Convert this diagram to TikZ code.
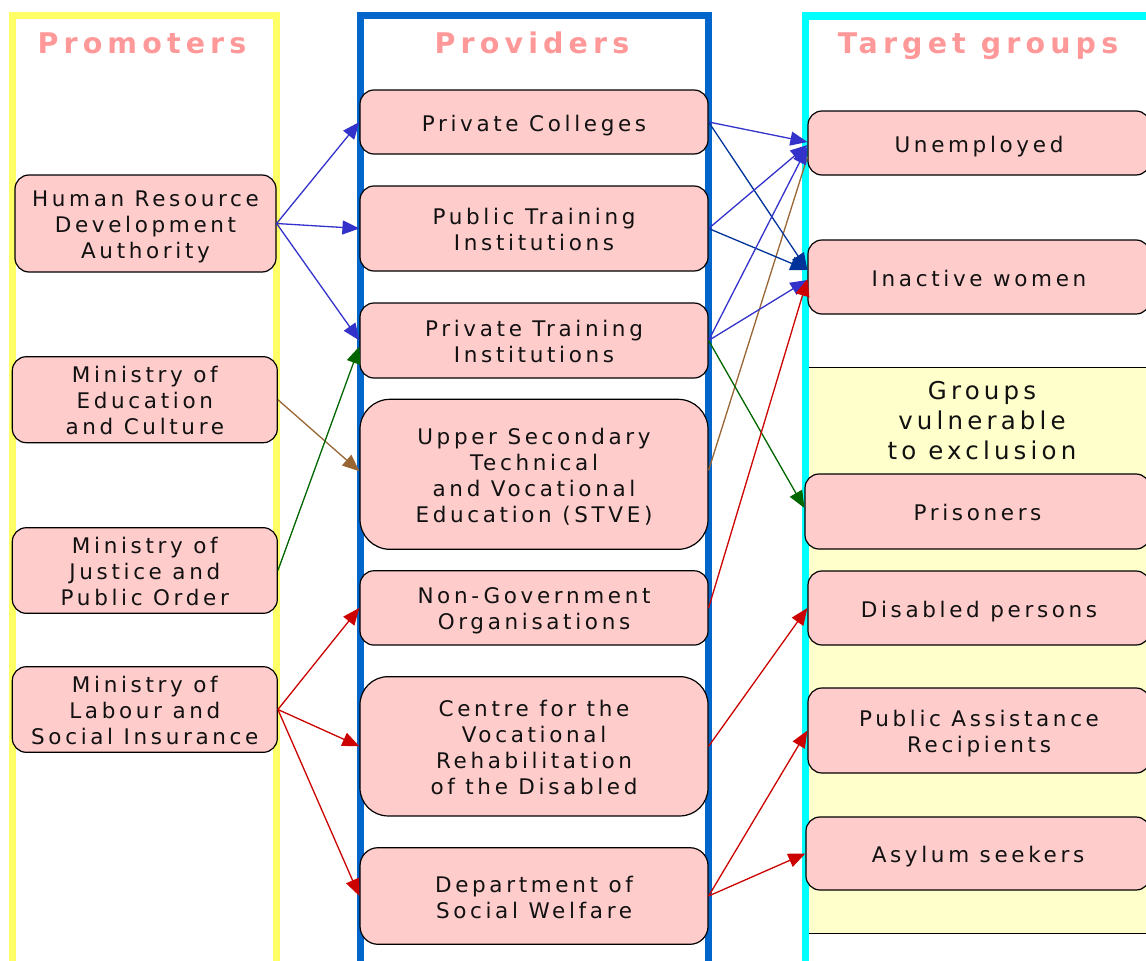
\documentclass[tikz,border=0pt]{standalone}
\usepackage{fontspec}
\setmainfont{DejaVu Sans}
\newfontfamily\boxfont[LetterSpace=17]{DejaVu Sans}
\newfontfamily\titlefont[LetterSpace=18]{DejaVu Sans}
\usetikzlibrary{arrows.meta,calc}
\definecolor{pinkfill}{HTML}{FFCCCC}
\definecolor{titlepink}{HTML}{FF9999}
\definecolor{framey}{HTML}{FFFF66}
\definecolor{frameb}{HTML}{0066CC}
\definecolor{framec}{HTML}{00FFFF}
\definecolor{lightyel}{HTML}{FFFFCC}
\definecolor{arrblue}{HTML}{3333CC}
\definecolor{arrdblue}{HTML}{003399}
\definecolor{arrbrown}{HTML}{996633}
\definecolor{arrgreen}{HTML}{006600}
\definecolor{arrred}{HTML}{CC0000}
\definecolor{txt}{HTML}{111111}
\begin{document}
\begin{tikzpicture}[x=1pt,y=-1pt,
  box/.style={draw=black, line width=1.2pt, fill=pinkfill, rounded corners=14pt,
    align=center, inner sep=0pt, text=txt, font=\boxfont\fontsize{21.5}{26}\selectfont,
    text depth=0pt},
  oneline/.style={text height=18pt},
  twolines/.style={text height=44pt},
  threelines/.style={text height=70pt},
  fourlines/.style={text height=96pt},
  titletext/.style={anchor=base, text=titlepink, inner sep=0pt,
    font=\titlefont\bfseries\fontsize{28.5}{34}\selectfont},
  conn/.style={line width=1.3pt, -{Triangle[length=17pt,width=14pt]}},
  plainconn/.style={line width=1.3pt}]
\useasboundingbox (0,0) rectangle (1146,961);
% light yellow band
\fill[lightyel] (806,367.5) rectangle (1170,933);
\draw[line width=1pt] (806,367.5) -- (1170,367.5);
\draw[line width=1pt] (806,933) -- (1170,933);
% column frames
\draw[framey, line width=6.5pt] (12.5,15.5) rectangle (276.7,990);
\draw[frameb, line width=6.5pt] (360.3,15.5) rectangle (708.5,990);
\draw[framec, line width=7.5pt] (805.5,15.8) rectangle (1170,990);
% titles
\node[titletext] (tprom) at (142,53.3) {Promoters};
\node[titletext] (tprov) at (532,53.3) {Providers};
\node[titletext] (ttarg) at (978,53.3) {Target groups};
% promoters
\node[box, threelines, minimum width=261pt, minimum height=97pt] (hrda) at (145.5,223.5) {Human Resource\\Development\\Authority};
\node[box, threelines, minimum width=265pt, minimum height=86pt] (moec) at (144.8,399.7) {Ministry of\\Education\\and Culture};
\node[box, threelines, minimum width=265pt, minimum height=85.6pt] (mojpo) at (144.8,570.5) {Ministry of\\Justice and\\Public Order};
\node[box, threelines, minimum width=265pt, minimum height=85.6pt] (molsi) at (144.8,709.5) {Ministry of\\Labour and\\Social Insurance};
% providers
\node[box, oneline, minimum width=348pt, minimum height=64pt] (pc) at (534,122) {Private Colleges};
\node[box, twolines, minimum width=348pt, minimum height=85pt] (pti) at (534,228.5) {Public Training\\Institutions};
\node[box, twolines, minimum width=348pt, minimum height=75pt] (prti) at (534,340.5) {Private Training\\Institutions};
\node[box, fourlines, rounded corners=30pt, minimum width=348pt, minimum height=150pt] (stve) at (534,474.3) {Upper Secondary\\Technical\\and Vocational\\Education (STVE)};
\node[box, twolines, minimum width=348pt, minimum height=74.3pt] (ngo) at (534,607.9) {Non-Government\\Organisations};
\node[box, fourlines, rounded corners=28pt, minimum width=348pt, minimum height=139.3pt] (cvrd) at (534,746.3) {Centre for the\\Vocational\\Rehabilitation\\of the Disabled};
\node[box, twolines, rounded corners=18pt, minimum width=348pt, minimum height=96.6pt] (dsw) at (534,896) {Department of\\Social Welfare};
% targets
\node[box, oneline, minimum width=342pt, minimum height=64pt] (unemp) at (979,143) {Unemployed};
\node[box, oneline, minimum width=342pt, minimum height=74pt] (inact) at (979,277) {Inactive women};
\node[align=center, inner sep=0pt, text=txt, font=\boxfont\fontsize{24.5}{30}\selectfont] (grp) at (982,420.5) {Groups\\vulnerable\\to exclusion};
\node[box, oneline, minimum width=345pt, minimum height=75pt] (pris) at (977.5,511.5) {Prisoners};
\node[box, oneline, minimum width=342pt, minimum height=74pt] (disab) at (979,608) {Disabled persons};
\node[box, twolines, minimum width=342pt, minimum height=85pt] (par) at (979,730.5) {Public Assistance\\Recipients};
\node[box, oneline, minimum width=344pt, minimum height=73pt] (asyl) at (978,853.5) {Asylum seekers};
% promoters -> providers
\draw[conn, arrblue] (hrda.east) -- (pc.west);
\draw[conn, arrblue] (hrda.east) -- (pti.west);
\draw[conn, arrblue] (hrda.east) -- (prti.west);
\draw[conn, arrbrown] (moec.east) -- ([yshift=3pt]stve.west);
\draw[conn, arrgreen] (mojpo.east) -- ([yshift=-6pt]prti.west);
\draw[conn, arrred] (molsi.east) -- (ngo.west);
\draw[conn, arrred] (molsi.east) -- (cvrd.west);
\draw[conn, arrred] (molsi.east) -- (dsw.west);
% providers -> targets
\draw[plainconn, arrbrown] ([yshift=4pt]stve.east) -- ([yshift=-14pt]unemp.west);
\draw[conn, arrblue] (pc.east) -- ([yshift=1pt]unemp.west);
\draw[conn, arrdblue] (pc.east) -- ([yshift=7pt]inact.west);
\draw[conn, arrblue] (pti.east) -- ([yshift=-2pt]unemp.west);
\draw[conn, arrdblue] (pti.east) -- ([yshift=7pt]inact.west);
\draw[conn, arrblue] (prti.east) -- ([yshift=-4pt]unemp.west);
\draw[conn, arrblue] (prti.east) -- ([yshift=-3pt]inact.west);
\draw[conn, arrgreen] (prti.east) -- ([yshift=3.5pt]pris.west);
\draw[conn, arrred] (ngo.east) -- ([yshift=-2pt]inact.west);
\draw[conn, arrred] (cvrd.east) -- (disab.west);
\draw[conn, arrred] (dsw.east) -- (par.west);
\draw[conn, arrred] (dsw.east) -- (asyl.west);
\end{tikzpicture}
\end{document}
